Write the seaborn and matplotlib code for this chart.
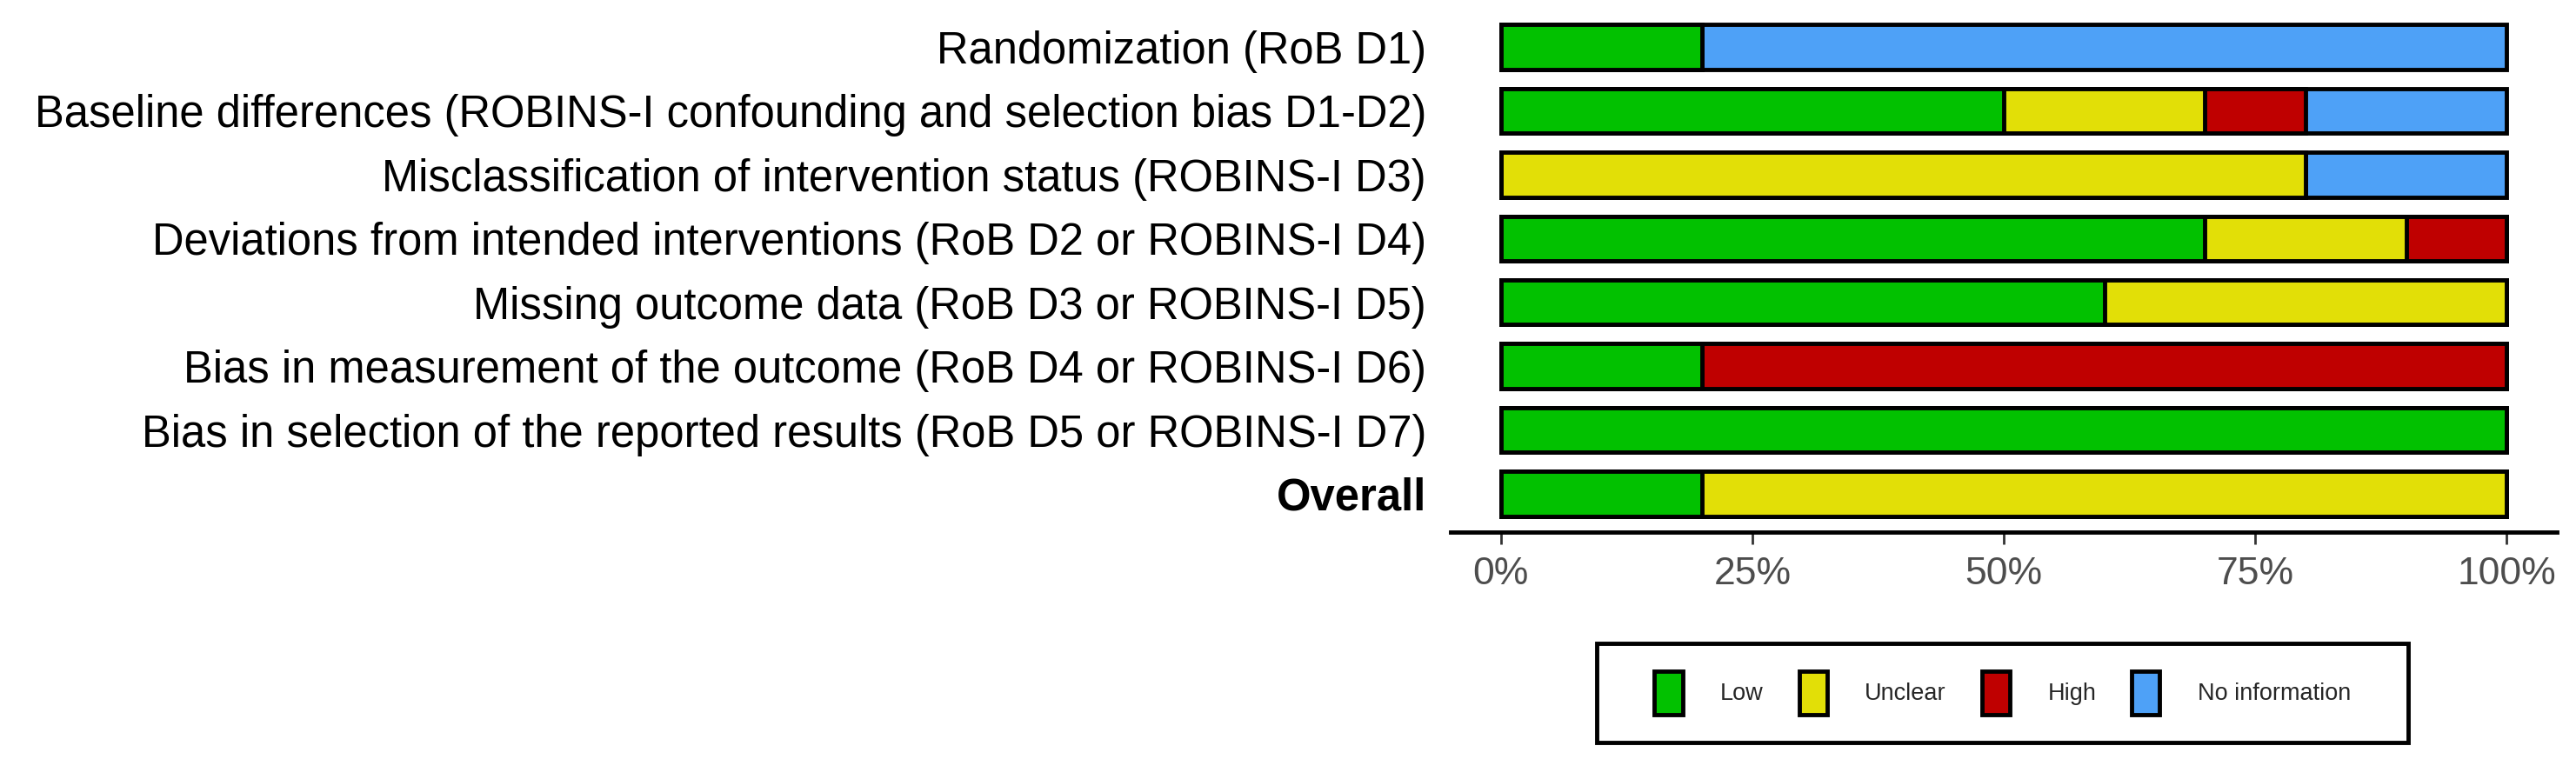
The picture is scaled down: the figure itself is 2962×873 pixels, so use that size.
import matplotlib
matplotlib.use("Agg")
import numpy as np
import pandas as pd
import seaborn as sns
import matplotlib.pyplot as plt
from matplotlib.patches import Patch, Rectangle

# Domini e percentuali per giudizio
domains = [
    "Randomization (RoB D1)",
    "Baseline differences (ROBINS-I confounding and selection bias D1-D2)",
    "Misclassification of intervention status (ROBINS-I D3)",
    "Deviations from intended interventions (RoB D2 or ROBINS-I D4)",
    "Missing outcome data (RoB D3 or ROBINS-I D5)",
    "Bias in measurement of the outcome (RoB D4 or ROBINS-I D6)",
    "Bias in selection of the reported results (RoB D5 or ROBINS-I D7)",
    "Overall",
]
low = [20, 50, 0, 70, 60, 20, 100, 20]
unclear = [0, 20, 80, 20, 40, 0, 0, 80]
high = [0, 10, 0, 10, 0, 80, 0, 0]
no_info = [80, 20, 20, 0, 0, 0, 0, 0]

judgements = ["Low", "Unclear", "High", "No information"]
colors = ["#02C100", "#E2DF07", "#BF0000", "#4EA1F7"]
xticks = [0, 25, 50, 75, 100]
xticklabels = ["0%", "25%", "50%", "75%", "100%"]

df = pd.DataFrame({"domain": domains, "Low": low, "Unclear": unclear,
                   "High": high, "No information": no_info})
# somme cumulative: si disegnano dalla piu' lunga alla piu' corta
cum = df[judgements].cumsum(axis=1)

sns.set_theme(style="white")
plt.rcParams["font.family"] = ["Liberation Sans", "DejaVu Sans"]

fig = plt.figure(figsize=(29.62, 8.73), dpi=100)
ax = fig.add_axes([0.5631, 0.299, 0.9926 - 0.5631, 0.9885 - 0.299])

for j in reversed(range(len(judgements))):
    sns.barplot(x=cum[judgements[j]], y=df["domain"], order=domains,
                color=colors[j], saturation=1, width=0.7, orient="h",
                edgecolor="black", linewidth=3.5, ax=ax)

ax.set_xlim(-5, 105)
ax.set_ylim(len(domains) - 0.4, -0.6)
ax.set_xticks(xticks)
ax.set_xticklabels(xticklabels, color="#4D4D4D", fontsize=32)
ax.set_xlabel("")
ax.set_ylabel("")
ax.tick_params(axis="x", length=10, width=2, color="#333333", pad=10, bottom=True)
ax.tick_params(axis="y", length=0, pad=20, labelsize=36.5, labelcolor="black")
for lab in ax.get_yticklabels():
    if lab.get_text() == "Overall":
        lab.set_fontweight("bold")

for side in ["top", "right", "left"]:
    ax.spines[side].set_visible(False)
ax.spines["bottom"].set_color("black")
ax.spines["bottom"].set_linewidth(3.5)
ax.grid(False)

# legenda in basso, con cornice nera
handles = [Patch(facecolor=c, edgecolor="black", linewidth=3.5, label=l)
           for c, l in zip(colors, judgements)]
fig.legend(handles=handles, loc="center", bbox_to_anchor=(0.7774, 0.0871),
           ncol=4, fontsize=19.5, frameon=False,
           handlelength=1.2, handleheight=2.5, handletextpad=1.6,
           columnspacing=1.5, borderpad=0.5)
fig.patches.append(Rectangle((0.6199, 0.0218), 0.315, 0.1306,
                             transform=fig.transFigure, fill=False,
                             edgecolor="black", linewidth=3.5))

fig.savefig("out.png", dpi=100, facecolor="white")
